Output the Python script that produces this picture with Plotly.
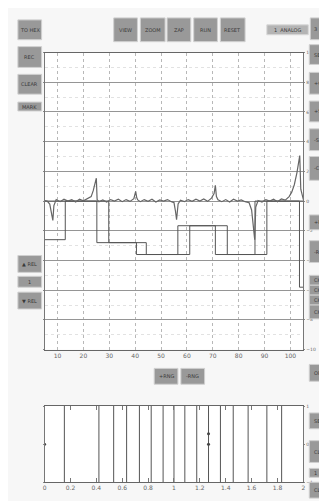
import plotly.graph_objects as go

W, H = 327, 501

# ---------------- data ----------------
analog_t = [0.00, 0.10, 0.20, 0.28, 0.32, 0.36, 0.45, 0.60, 0.75, 0.90, 1.05, 1.20, 1.35, 1.50,
            1.65, 1.80, 1.88, 1.96, 2.00, 2.03, 2.10, 2.25, 2.40, 2.55, 2.70, 2.85, 3.00, 3.15,
            3.30, 3.45, 3.52, 3.56, 3.60, 3.70, 3.85, 4.00, 4.15, 4.30, 4.45, 4.60, 4.75, 4.90,
            5.00, 5.06, 5.10, 5.16, 5.25, 5.40, 5.55, 5.70, 5.85, 6.00, 6.15, 6.30, 6.45, 6.55,
            6.60, 6.64, 6.70, 6.85, 7.00, 7.15, 7.30, 7.45, 7.60, 7.75, 7.90, 8.00, 8.08, 8.12,
            8.16, 8.25, 8.40, 8.55, 8.70, 8.85, 9.00, 9.15, 9.30, 9.45, 9.55, 9.65, 9.75, 9.82,
            9.86, 9.90, 10.0]
analog_v = [0.04, 0.00, -0.20, -0.90, -1.30, -0.30, 0.10, -0.04, 0.12, 0.00, 0.10, -0.06, 0.12, 0.02,
            0.16, 0.30, 0.70, 1.24, 1.54, 0.10, -0.04, 0.08, -0.06, 0.10, 0.00, 0.12, -0.04, 0.10,
            -0.02, 0.16, 0.66, 0.24, 0.08, -0.04, 0.10, -0.02, 0.12, -0.06, 0.08, 0.00, 0.10, -0.04,
            -0.10, -0.70, -1.26, -0.20, 0.06, -0.04, 0.10, -0.02, 0.12, 0.00, 0.14, -0.02, 0.20, 0.50,
            1.06, 0.30, 0.08, -0.04, 0.10, -0.06, 0.12, 0.00, 0.08, -0.04, -0.10, -0.60, -1.80, -2.60,
            -0.40, 0.04, -0.06, 0.10, 0.00, 0.12, -0.04, 0.14, 0.06, 0.30, 0.60, 1.10, 1.90, 2.70,
            3.06, 0.80, 0.10]

stepA_t = [0.0, 0.80, 2.02, 3.55, 5.15, 6.60, 8.13, 9.85, 10.0]
stepA_v = [-2.6, 0.0, -2.8, -3.6, -1.66, -3.6, 0.0, -5.8, -5.8]
stepB_t = [0.0, 2.48, 3.93, 5.61, 7.06, 8.59, 10.0]
stepB_v = [0.0, -2.8, -3.6, -1.66, -3.6, 0.0, 0.0]

top_tickvals = [0.5, 1.5, 2.5, 3.5, 4.5, 5.5, 6.5, 7.5, 8.5, 9.5]
top_ticktext = ["10", "20", "30", "40", "50", "60", "70", "80", "90", "100"]

events_t = [0.153, 0.42, 0.534, 0.634, 0.733, 0.824, 0.916, 1.0, 1.084, 1.176,
            1.267, 1.359, 1.458, 1.573, 1.718, 1.832]
dots_t = [0.0, 1.267, 1.267]
dots_v = [0.0, 0.0, 0.27]

# buttons: (x0, y0, x1, y1, label) in pixels
buttons = [
    (8, 10, 32, 30, "TO HEX"), (8, 37, 32, 58, "REC"), (8, 65, 32, 85, "CLEAR"),
    (8, 93, 32, 102, "MARK"), (8, 248, 32, 265, "▲ REL"), (8, 269, 32, 280, "1"),
    (8, 285, 32, 302, "▼ REL"),
    (105, 8, 129, 32, "VIEW"), (132, 8, 157, 32, "ZOOM"), (159, 8, 183, 32, "ZAP"),
    (186, 8, 210, 32, "RUN"), (213, 8, 238, 32, "RESET"),
    (304, 8, 314, 30, "3"), (315, 8, 325, 30, "T"),
    (303, 35, 326, 55, "SET"), (303, 63, 326, 85, "+CH"), (303, 92, 326, 113, "+SC"),
    (303, 120, 326, 142, "-SC"), (303, 148, 326, 172, "-CH"),
    (303, 207, 326, 222, "+R"), (303, 233, 326, 255, "-R"),
    (303, 268, 326, 278, "CH1"), (303, 278, 326, 288, "CH2"), (303, 288, 326, 298, "CH3"),
    (303, 298, 326, 312, "CH4"), (303, 358, 326, 375, "OPN"),
    (303, 407, 326, 423, "SET"), (303, 435, 326, 457, "CLR"), (303, 463, 326, 472, "1"),
    (303, 477, 326, 493, "CLS"),
    (146, 362, 170, 378, "+RNG"), (173, 362, 197, 378, "-RNG"),
]
textbox = (260, 15, 302, 25, "1  ANALOG")

# ---------------- figure ----------------
def px(x):
    return x / W

def py(y):
    return 1 - y / H

fig = go.Figure()

line_col = "#555555"
fig.add_trace(go.Scatter(x=stepB_t, y=stepB_v, mode="lines", line=dict(color=line_col, width=1, shape="hv"),
                         xaxis="x", yaxis="y", hoverinfo="skip"))
fig.add_trace(go.Scatter(x=stepA_t, y=stepA_v, mode="lines", line=dict(color=line_col, width=1, shape="hv"),
                         xaxis="x", yaxis="y", hoverinfo="skip"))
fig.add_trace(go.Scatter(x=analog_t, y=analog_v, mode="lines", line=dict(color="#666666", width=1.2),
                         xaxis="x", yaxis="y", hoverinfo="skip"))

ex, ey = [], []
for t in events_t:
    ex += [t, t, None]
    ey += [-1, 1, None]
fig.add_trace(go.Scatter(x=ex, y=ey, mode="lines", line=dict(color="#555", width=1),
                         xaxis="x2", yaxis="y2", hoverinfo="skip"))
fig.add_trace(go.Scatter(x=dots_t, y=dots_v, mode="markers", marker=dict(color="#444", size=3),
                         xaxis="x2", yaxis="y2", hoverinfo="skip"))

shapes = []
annotations = []
for (x0, y0, x1, y1, lab) in buttons:
    shapes.append(dict(type="rect", xref="paper", yref="paper", x0=px(x0), x1=px(x1), y0=py(y1), y1=py(y0),
                       fillcolor="#999999", line=dict(color="#d0d0d0", width=1), layer="above"))
    if x0 == 303:
        ax, anc = px(x0 + 3.5), "left"
    else:
        ax, anc = px((x0 + x1) / 2), "center"
    annotations.append(dict(xref="paper", yref="paper", x=ax, y=py((y0 + y1) / 2),
                            text=lab, showarrow=False, borderpad=0,
                            font=dict(size=5, color="#3a3a3a", family="DejaVu Sans"),
                            xanchor=anc, yanchor="middle"))
x0, y0, x1, y1, lab = textbox
shapes.append(dict(type="rect", xref="paper", yref="paper", x0=px(x0), x1=px(x1), y0=py(y1), y1=py(y0),
                   fillcolor="#b4b4b4", line=dict(color="#d8d8d8", width=1), layer="above"))
annotations.append(dict(xref="paper", yref="paper", x=px((x0 + x1) / 2), y=py((y0 + y1) / 2),
                        text=lab, showarrow=False, borderpad=0,
                        font=dict(size=5, color="#3a3a3a", family="DejaVu Sans"),
                        xanchor="center", yanchor="middle"))

tickfont = dict(size=6, color="#666", family="DejaVu Sans")
rtickfont = dict(size=4.5, color="#666", family="DejaVu Sans")
fig.update_layout(
    width=W, height=H, autosize=False,
    margin=dict(l=0, r=0, t=0, b=0),
    paper_bgcolor="#f7f7f7", plot_bgcolor="#ffffff",
    showlegend=False,
    shapes=shapes, annotations=annotations,
    xaxis=dict(domain=[px(35), px(297)], range=[0, 10], anchor="y",
               tickvals=top_tickvals, ticktext=top_ticktext, tickfont=tickfont,
               showgrid=True, gridcolor="#b8b8b8", griddash="dot", gridwidth=1,
               showline=True, linecolor="#666", linewidth=1, mirror=True,
               ticks="", zeroline=False),
    yaxis=dict(domain=[py(343), py(43)], range=[-10, 10], anchor="x", side="right",
               dtick=2, tickfont=rtickfont, showgrid=True, gridcolor="#959595", gridwidth=1,
               minor=dict(dtick=1, showgrid=True, gridcolor="#e2e2e2", griddash="dot"),
               showline=True, linecolor="#777", linewidth=1, mirror="ticks",
               ticks="outside", ticklen=1, tickcolor="#888", zeroline=False),
    xaxis2=dict(domain=[px(35), px(297)], range=[0, 2], anchor="y2", dtick=0.2,
                tickfont=tickfont, showgrid=False, showline=True, linecolor="#666", linewidth=1,
                mirror="ticks", ticks="inside", ticklen=4, tickcolor="#777", zeroline=False),
    yaxis2=dict(domain=[py(477), py(400)], range=[-1, 1], anchor="x2", side="right", dtick=1,
                tickfont=rtickfont, showgrid=False, showline=True, linecolor="#777", linewidth=1,
                mirror="ticks", ticks="outside", ticklen=1, tickcolor="#888", zeroline=False),
)

fig.write_html("out.html")
